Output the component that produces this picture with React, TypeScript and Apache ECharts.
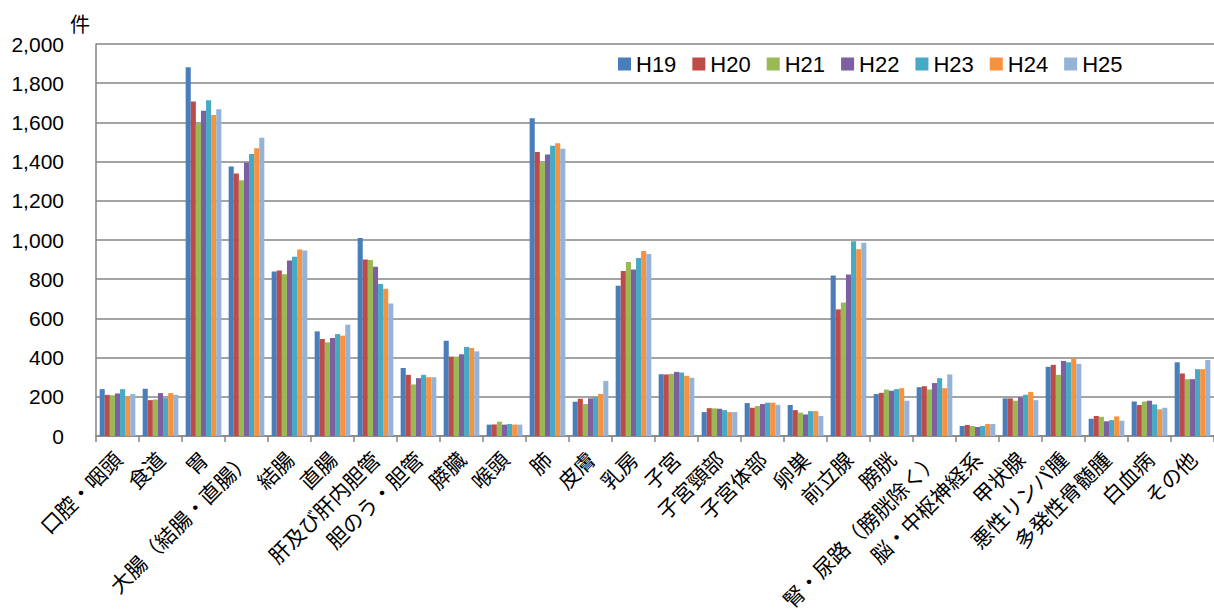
import React, { useEffect, useRef } from "react";
import * as echarts from "echarts";

const categories = [
  "口腔・咽頭", "食道", "胃", "大腸（結腸・直腸）", "結腸", "直腸", "肝及び肝内胆管",
  "胆のう・胆管", "膵臓", "喉頭", "肺", "皮膚", "乳房", "子宮", "子宮頸部", "子宮体部",
  "卵巣", "前立腺", "膀胱", "腎・尿路（膀胱除く）", "脳・中枢神経系", "甲状腺",
  "悪性リンパ腫", "多発性骨髄腫", "白血病", "その他",
];

const seriesNames = ["H19", "H20", "H21", "H22", "H23", "H24", "H25"];

const H19 = [239, 241, 1881, 1375, 839, 534, 1010, 347, 486, 58, 1621, 175, 766, 315, 122, 168, 158, 819, 214, 249, 51, 192, 353, 88, 176, 376];
const H20 = [210, 183, 1706, 1339, 844, 495, 900, 312, 405, 59, 1449, 190, 842, 314, 142, 144, 132, 646, 220, 254, 56, 192, 363, 102, 158, 319];
const H21 = [208, 186, 1592, 1305, 825, 478, 898, 263, 405, 73, 1395, 163, 888, 317, 141, 153, 119, 681, 237, 237, 51, 180, 312, 98, 176, 290];
const H22 = [217, 219, 1660, 1395, 895, 500, 864, 295, 417, 58, 1436, 192, 849, 327, 139, 163, 110, 824, 231, 270, 46, 198, 383, 75, 180, 290];
const H23 = [239, 193, 1713, 1439, 915, 520, 776, 312, 454, 61, 1481, 197, 908, 324, 132, 170, 127, 993, 239, 295, 51, 210, 376, 81, 161, 341];
const H24 = [203, 219, 1638, 1468, 951, 512, 751, 300, 449, 58, 1493, 215, 944, 307, 122, 170, 127, 953, 244, 244, 61, 225, 395, 100, 136, 341];
const H25 = [214, 210, 1667, 1522, 947, 568, 676, 300, 432, 58, 1466, 281, 929, 297, 122, 159, 102, 986, 180, 314, 61, 183, 368, 78, 144, 388];

const seriesData = [H19, H20, H21, H22, H23, H24, H25];
const colors = ["#4A7EBB", "#BE4B48", "#98B954", "#7D60A0", "#46AAC5", "#F69240", "#95B3D7"];

const yMin = 0;
const yMax = 2000;
const yInterval = 200;

export default function App() {
  const ref = useRef<HTMLDivElement>(null);

  useEffect(() => {
    if (!ref.current) return;
    const chart = echarts.init(ref.current, undefined, { renderer: "svg" });
    const latin = "'Liberation Sans', Arial, sans-serif";
    const cjk = "'Noto Sans CJK JP', 'Liberation Sans', sans-serif";
    chart.setOption({
      animation: false,
      backgroundColor: "#ffffff",
      color: colors,
      grid: { left: 96, top: 44, width: 1120, height: 392 },
      legend: {
        left: 618,
        top: 53,
        padding: 0,
        itemWidth: 13,
        itemHeight: 13,
        itemGap: 16,
        icon: "rect",
        textStyle: { fontFamily: latin, fontSize: 22, color: "#000" },
        data: seriesNames,
      },
      graphic: [
        {
          type: "text",
          left: 70,
          top: 13,
          style: { text: "件", fontFamily: cjk, fontSize: 20, fill: "#000" },
        },
      ],
      xAxis: {
        type: "category",
        data: categories,
        axisLine: { show: true, lineStyle: { color: "#868686", width: 1.5 } },
        axisTick: { show: true, length: 6, lineStyle: { color: "#868686", width: 1.5 } },
        axisLabel: {
          interval: 0,
          rotate: 45,
          margin: 19,
          fontFamily: cjk,
          fontSize: 21,
          color: "#000",
        },
      },
      yAxis: {
        type: "value",
        min: yMin,
        max: yMax,
        interval: yInterval,
        axisLine: { show: true, lineStyle: { color: "#868686", width: 1.5 } },
        axisTick: { show: false },
        splitLine: { show: true, lineStyle: { color: "#868686", width: 1.5 } },
        axisLabel: {
          margin: 32,
          fontFamily: latin,
          fontSize: 21,
          color: "#000",
          formatter: (v: number) => v.toLocaleString("en-US"),
        },
      },
      series: seriesNames.map((name, i) => ({
        name,
        type: "bar",
        data: seriesData[i],
        barGap: "0%",
        barCategoryGap: "17%",
        itemStyle: { color: colors[i] },
      })),
    });
    return () => chart.dispose();
  }, []);

  return (
    <div
      ref={ref}
      style={{ position: "fixed", left: 0, top: 0, width: 1214, height: 615 }}
    />
  );
}
